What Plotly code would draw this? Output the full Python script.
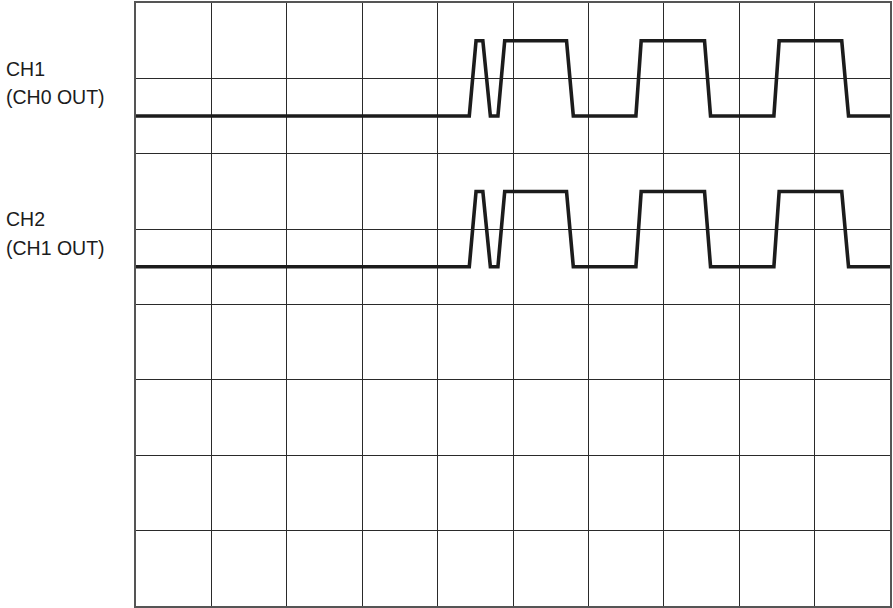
import plotly.graph_objects as go

# Transition times (in grid divisions) and logic levels of the two channels
times = [0, 4.42, 4.51, 4.60, 4.70, 4.80, 4.89, 5.71, 5.80, 6.63, 6.70, 7.54, 7.62, 8.46, 8.53, 9.36, 9.45, 10]
levels = [0, 0, 1, 1, 0, 0, 1, 1, 0, 0, 1, 1, 0, 0, 1, 1, 0, 0]
ch1_base = 6.5
ch2_base = 4.5
labels = [("CH1", "(CH0 OUT)"), ("CH2", "(CH1 OUT)")]

fig = go.Figure()
for base in (ch1_base, ch2_base):
    fig.add_trace(go.Scatter(
        x=times, y=[base + v for v in levels], mode="lines",
        line=dict(color="#1c1c1c", width=3.6), hoverinfo="skip", showlegend=False,
    ))

font = dict(family="Liberation Sans, Arial, sans-serif", size=19.5, color="#1c1c1c")
for (l1, l2), base in zip(labels, (ch1_base, ch2_base)):
    fig.add_annotation(text=l1, xref="paper", x=0, xshift=-132, xanchor="left",
                       yref="y", y=base + 0.63, yanchor="middle", showarrow=False, font=font)
    fig.add_annotation(text=l2, xref="paper", x=0, xshift=-132, xanchor="left",
                       yref="y", y=base + 0.255, yanchor="middle", showarrow=False, font=font)

axis_common = dict(showgrid=True, gridcolor="#2a2a2a", gridwidth=1, dtick=1,
                   showticklabels=False, ticks="", zeroline=False,
                   showline=True, mirror=True, linecolor="#555", linewidth=1.5, fixedrange=True)
fig.update_xaxes(range=[0, 10], tick0=0, **axis_common)
fig.update_yaxes(range=[0, 8], tick0=0, **axis_common)

fig.update_layout(
    width=893, height=608,
    margin=dict(l=136, r=1, t=2, b=2),
    paper_bgcolor="white", plot_bgcolor="white",
)
fig.write_html("out.html", config={"displayModeBar": False},
               post_script="document.body.style.margin='0';document.body.style.overflow='hidden';")
